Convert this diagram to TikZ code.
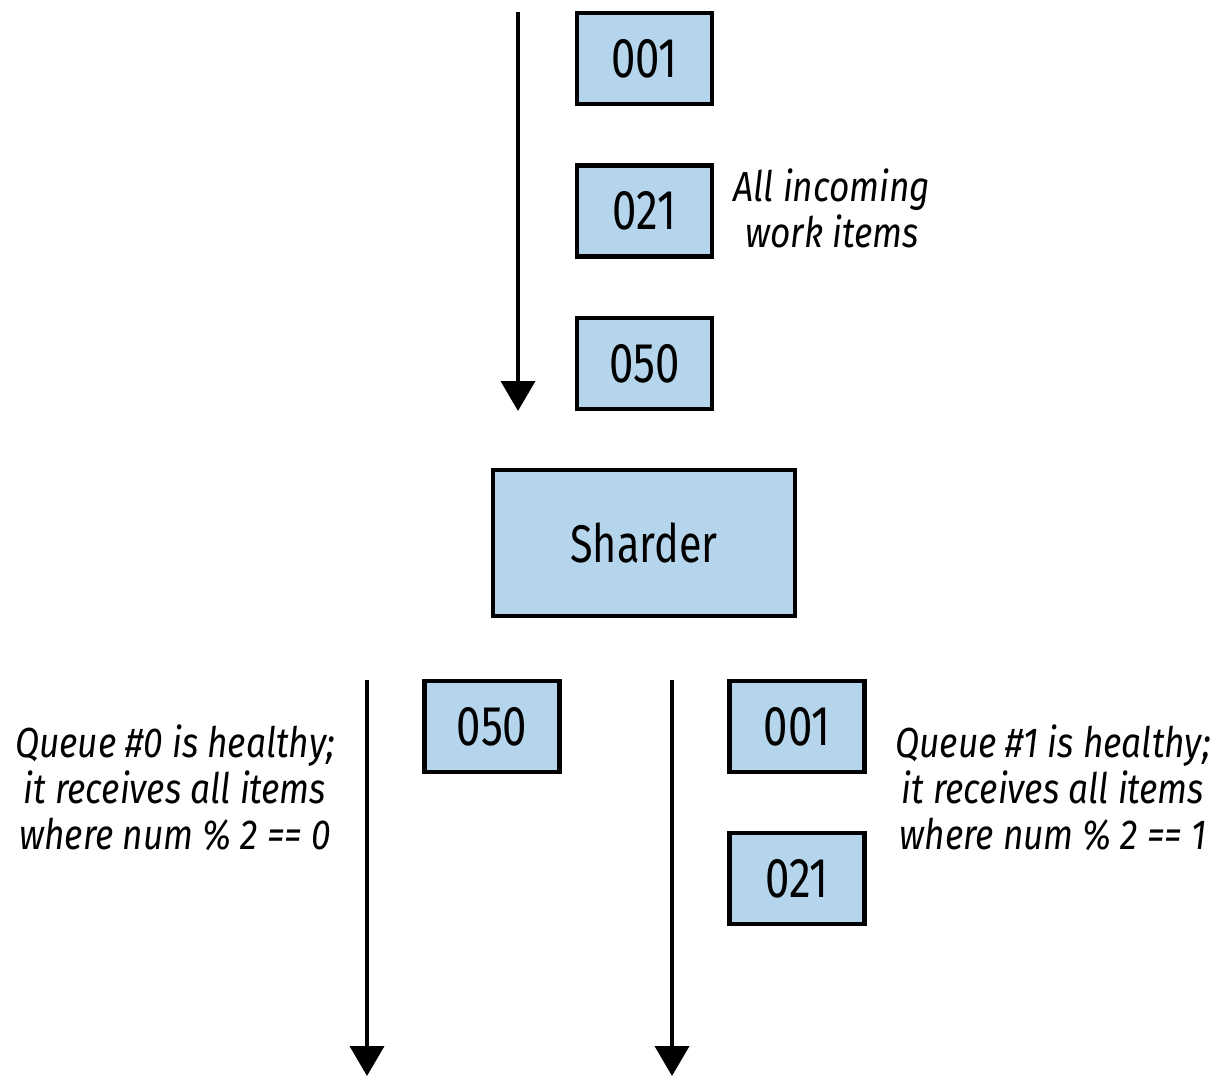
\documentclass[tikz,border=0pt]{standalone}
\usepackage{fontspec}
\setmainfont{Fira Sans}[FakeStretch=0.78,ItalicFeatures={FakeStretch=0.84}]
\usetikzlibrary{arrows.meta}
\definecolor{itemblue}{HTML}{B4D5EB}

\begin{document}
\begin{tikzpicture}[x=1pt,y=-1pt,
  item/.style={draw, line width=4.5pt, fill=itemblue, minimum width=135pt, minimum height=91pt, inner sep=0pt, font=\fontsize{56}{60}\selectfont},
  flow/.style={line width=4pt, -{Triangle[length=30pt,width=34pt]}},
  note/.style={align=center, font=\itshape\fontsize{42}{46}\selectfont}]
  \useasboundingbox (0,0) rectangle (1225,1078);
  % incoming items
  \node[item] (in001) at (644.5,58.5) {001};
  \node[item] (in021) at (644.5,211) {021};
  \node[item] (in050) at (644.5,363.5) {050};
  \node[note] (innote) at (832,208) {All incoming\\work items};
  \coordinate (intop) at (518,12);
  \coordinate (inend) at (518,411);
  \draw[flow] (intop) -- (inend);
  % sharder
  \node[item, minimum width=302pt, minimum height=146pt, font=\fontsize{53}{58}\selectfont] (sharder) at (644,543) {Sharder};
  % queue 0
  \node[item] (q0050) at (492,726.5) {050};
  \node[note] (q0note) at (175,788) {Queue \#0 is healthy;\\it receives all items\\where num \% 2 == 0};
  \coordinate (q0top) at (367,680);
  \coordinate (q0end) at (367,1076);
  \draw[flow] (q0top) -- (q0end);
  % queue 1
  \node[item] (q1001) at (797,726.5) {001};
  \node[item] (q1021) at (797,878.5) {021};
  \node[note] (q1note) at (1053,788) {Queue \#1 is healthy;\\it receives all items\\where num \% 2 == 1};
  \coordinate (q1top) at (672,680);
  \coordinate (q1end) at (672,1076);
  \draw[flow] (q1top) -- (q1end);
\end{tikzpicture}
\end{document}
